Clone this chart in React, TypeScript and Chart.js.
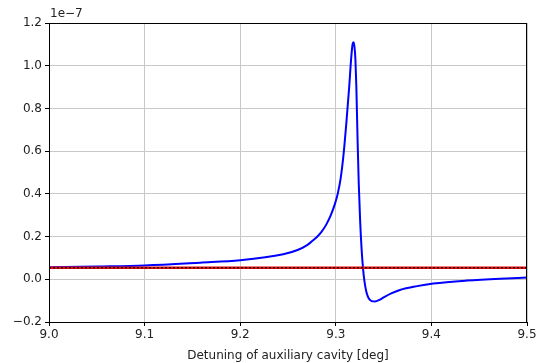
import React, { useEffect, useRef } from "react";
import { Chart, registerables } from "chart.js";

Chart.register(...registerables);

const detuning = [9.0, 9.05, 9.1, 9.158, 9.2, 9.245, 9.26, 9.27, 9.275, 9.28, 9.285, 9.29, 9.295, 9.299, 9.302, 9.305, 9.308, 9.311, 9.314, 9.316, 9.3175, 9.3185, 9.3195, 9.3205, 9.3215, 9.3228, 9.324, 9.3255, 9.327, 9.3285, 9.33, 9.332, 9.3345, 9.3375, 9.341, 9.345, 9.35, 9.358, 9.367, 9.385, 9.402, 9.437, 9.472, 9.5];
const power = [0.056, 0.06, 0.065, 0.078, 0.089, 0.117, 0.137, 0.16, 0.178, 0.197, 0.222, 0.256, 0.303, 0.352, 0.4, 0.47, 0.58, 0.73, 0.9, 1.03, 1.1, 1.11, 1.09, 1.03, 0.9, 0.65, 0.45, 0.27, 0.14, 0.05, -0.01, -0.06, -0.09, -0.102, -0.104, -0.098, -0.085, -0.066, -0.05, -0.032, -0.02, -0.006, 0.003, 0.008];
const refX = [9.0, 9.5];
const refLevel = [0.054, 0.054];
const xTicks = [9.0, 9.1, 9.2, 9.3, 9.4, 9.5];
const yTicks = [-0.2, 0.0, 0.2, 0.4, 0.6, 0.8, 1.0, 1.2];
const xLabel = "Detuning of auxiliary cavity [deg]";
const yExponent = "1e\u22127";

const FONT = "'DejaVu Sans', sans-serif";

export default function App() {
  const ref = useRef<HTMLCanvasElement>(null);
  useEffect(() => {
    document.body.style.margin = "0";
    const frame = {
      id: "frame",
      afterDraw(chart: any) {
        const { ctx, chartArea: a } = chart;
        ctx.save();
        ctx.strokeStyle = "#000";
        ctx.lineWidth = 1;
        ctx.strokeRect(a.left + 0.5, a.top + 0.5, a.right - a.left - 1, a.bottom - a.top);
        ctx.fillStyle = "#222";
        ctx.font = `12px ${FONT}`;
        ctx.textAlign = "left";
        ctx.textBaseline = "bottom";
        ctx.fillText(yExponent, a.left + 1, a.top - 3);
        ctx.restore();
      },
    };
    const chart = new Chart(ref.current!, {
      type: "line",
      data: {
        datasets: [
          {
            data: detuning.map((x, i) => ({ x, y: power[i] })),
            borderColor: "#0000ff",
            borderWidth: 2,
            pointRadius: 0,
            cubicInterpolationMode: "monotone",
            order: 3,
          },
          {
            data: refX.map((x, i) => ({ x, y: refLevel[i] })),
            borderColor: "#ff0000",
            borderWidth: 2.5,
            pointRadius: 0,
            order: 2,
          },
          {
            data: refX.map((x, i) => ({ x, y: refLevel[i] })),
            borderColor: "#000000",
            borderWidth: 1.5,
            borderDash: [2, 2],
            pointRadius: 0,
            order: 1,
          },
        ],
      },
      options: {
        animation: false,
        responsive: false,
        layout: { padding: { top: 23, right: 9, left: 0, bottom: 0 } },
        plugins: { legend: { display: false }, tooltip: { enabled: false } },
        scales: {
          x: {
            type: "linear",
            min: 9.0,
            max: 9.5,
            afterBuildTicks: (s: any) => {
              s.ticks = xTicks.map((v) => ({ value: v }));
            },
            afterFit: (s: any) => {
              s.height = 41;
              s.paddingLeft = 0;
              s.paddingRight = 0;
            },
            ticks: {
              color: "#222",
              font: { family: FONT, size: 12 },
              padding: 2,
              maxRotation: 0,
              callback: (v: any) => Number(v).toFixed(1),
            },
            grid: { color: "#c8c8c8", lineWidth: 1, tickLength: 4, tickColor: "#000" },
            border: { color: "#000", width: 1 },
            title: {
              display: true,
              text: xLabel,
              color: "#222",
              font: { family: FONT, size: 12 },
              padding: { top: 0, bottom: 0 },
            },
          },
          y: {
            type: "linear",
            min: -0.2,
            max: 1.2,
            afterBuildTicks: (s: any) => {
              s.ticks = yTicks.map((v) => ({ value: v }));
            },
            afterFit: (s: any) => {
              s.width = 49;
              s.paddingTop = 0;
              s.paddingBottom = 0;
            },
            ticks: {
              color: "#222",
              font: { family: FONT, size: 12 },
              padding: 3,
              callback: (v: any) => {
                const n = Number(v);
                const s = Math.abs(n).toFixed(1);
                return n < -1e-9 ? "\u2212" + s : s;
              },
            },
            grid: { color: "#c8c8c8", lineWidth: 1, tickLength: 4, tickColor: "#000" },
            border: { color: "#000", width: 1 },
          },
        },
      },
      plugins: [frame],
    } as any);
    return () => chart.destroy();
  }, []);
  return (
    <div style={{ width: 536, height: 363 }}>
      <canvas ref={ref} width={536} height={363} style={{ display: "block" }} />
    </div>
  );
}
